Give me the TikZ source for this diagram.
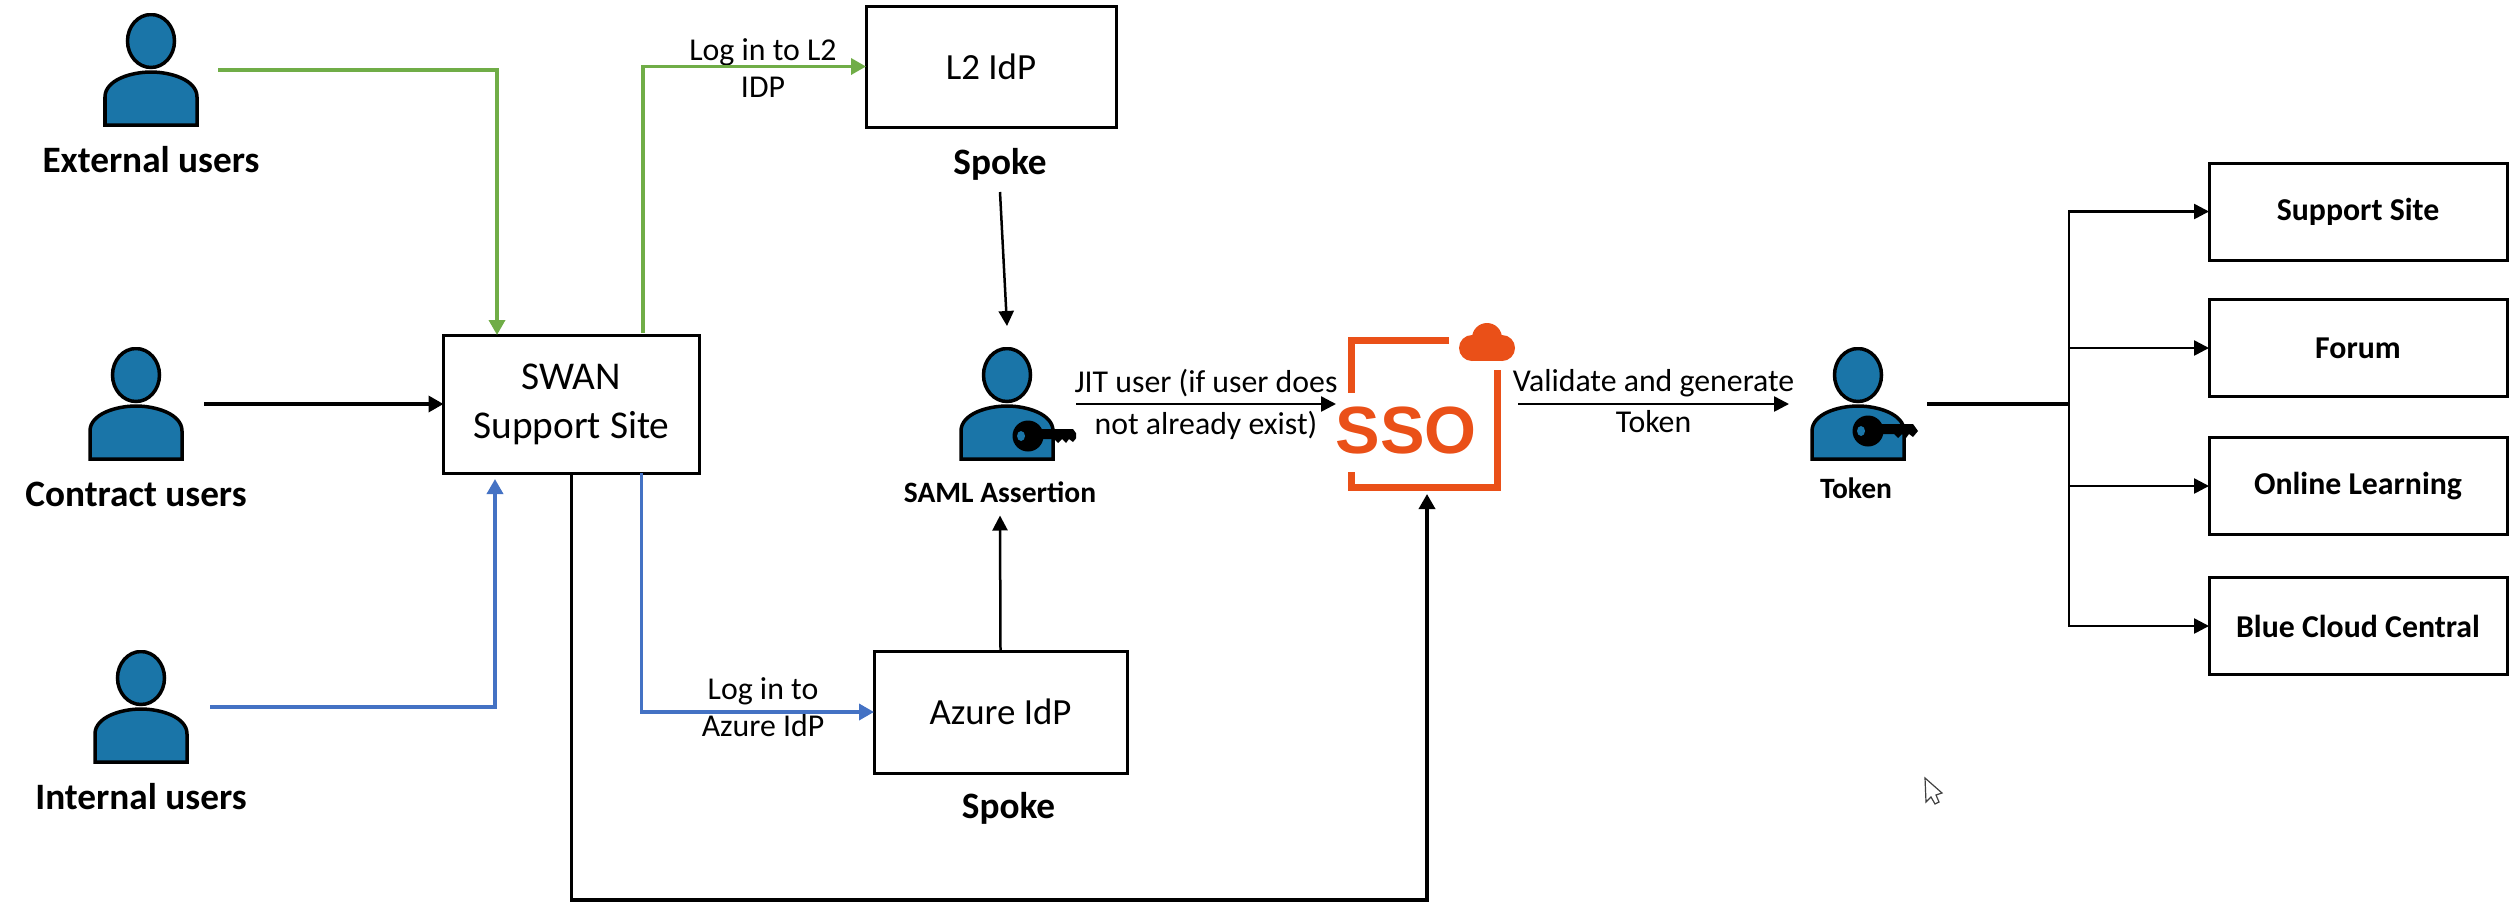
\documentclass[tikz,border=0pt]{standalone}
\usepackage{fontspec}
\setmainfont{Carlito}
\newfontfamily\ssofont{Liberation Sans}
\usetikzlibrary{arrows.meta,
                  calc,
                  shapes.geometric,
                  positioning}
\definecolor{userblue}{HTML}{1A75A8}
\definecolor{linegreen}{HTML}{70AD47}
\definecolor{lineblue}{HTML}{4472C4}
\definecolor{ssoorange}{HTML}{EA5018}
\newcommand{\usershape}{%
    \draw [line width=.035cm, fill=userblue] (0,.29) ellipse [x radius=.235, y radius=.265];
    \draw [line width=.035cm, fill=userblue] (-.46,-.55) -- (-.46,-.27) .. controls (-.46,-.1) and (-.2,-.02) .. (0,-.02) .. controls (.2,-.02) and (.46,-.1) .. (.46,-.27) -- (.46,-.55) -- cycle;
}
\newcommand{\keyshape}[2]{%
    \fill (#1,#2) ellipse [x radius=.155, y radius=.155];
    \fill (#1+.1,#2+.07) -- (#1+.45,#2+.07) -- (#1+.5,#2) -- (#1+.45,#2-.06) -- (#1+.41,#2-.03) -- (#1+.38,#2-.07) -- (#1+.34,#2-.03) -- (#1+.3,#2-.07) -- (#1+.26,#2-.03) -- (#1+.1,#2-.03) -- cycle;
    \fill [userblue] (#1-.07,#2) ellipse [x radius=.04, y radius=.05];
}
\begin{document}
\begin{tikzpicture}[every node/.style={font=\fontsize{9.05}{10.5}\selectfont, outer sep=0pt}]
    \tikzset{
    block/.style= {draw, rectangle, line width=.03cm, align=center, font=\fontsize{10.5}{14}\selectfont},
    tagblock/.style= {draw, rectangle, line width=.03cm, align=center, minimum width=2.98cm, minimum height=.97cm, font=\fontsize{9.05}{10}\selectfont\bfseries},
    user/.style = {rectangle, minimum height=1.14cm, path picture={\begin{scope}[shift={(path picture bounding box.center)}]\usershape\end{scope}}},
    samlkey/.style = {rectangle, minimum height=1.14cm, minimum width=1.38cm, path picture={\begin{scope}[shift={(path picture bounding box.center)}]\usershape\keyshape{.21}{-.32}\end{scope}}},
    tokenkey/.style = {rectangle, minimum height=1.14cm, minimum width=1.38cm, path picture={\begin{scope}[shift={(path picture bounding box.center)}]\usershape\keyshape{.10}{-.27}\end{scope}}},
    caption/.style = {font=\fontsize{10.6}{12}\selectfont\bfseries, inner sep=0pt},
    smallcaption/.style = {font=\fontsize{8.4}{10}\selectfont\bfseries, inner sep=0pt},
    edgelabel/.style = {align=center, inner sep=0pt},
    line/.style = {draw, line width=.035cm, -{Triangle[length=1.5mm,width=1.6mm]}},
    thinline/.style = {draw, line width=.025cm, -{Triangle[length=1.5mm,width=1.5mm]}},
    greenline/.style = {line, draw=linegreen, -{Triangle[length=1.5mm,width=1.6mm,fill=linegreen]}},
    blueline/.style = {line, draw=lineblue, -{Triangle[length=1.5mm,width=1.6mm,fill=lineblue]}}
}
\useasboundingbox (0,0) rectangle (25.14,9.05);
\node [block, minimum width=2.56cm, minimum height=1.38cm, font=\fontsize{11.2}{14}\selectfont] (swan) at (5.715,5.01) {SWAN\\Support Site};

\node [user, minimum width=1.34cm] (extuser) at (1.51,8.35) {};
\node [caption, below of=extuser, node distance=.9cm] (extlabel) {External users};
\node [user, minimum width=1.36cm, left of=swan, node distance=4.355cm] (conuser) {};
\node [caption, below of=conuser, node distance=.9cm] (conlabel) {Contract users};
\node [user, minimum width=1.38cm] (intuser) at (1.41,1.98) {};
\node [caption, below of=intuser, node distance=.9cm] (intlabel) {Internal users};

\node [block, minimum width=2.5cm, minimum height=1.21cm] (ltwo) at (9.91,8.385) {L2 IdP};
\node [caption, below of=ltwo, node distance=.975cm, xshift=.09cm] (ltwospoke) {Spoke};
\node [block, minimum width=2.53cm, minimum height=1.22cm] (azure) at (10.005,1.93) {Azure IdP};
\node [caption, below of=azure, node distance=.96cm, xshift=.08cm] (azurespoke) {Spoke};

\node [samlkey] (samluser) at (10.07,5.01) {};
\node [smallcaption] (samllabel) at (10,4.13) {SAML Assertion};

\node [rectangle, minimum width=1.82cm, minimum height=1.8cm, path picture={
    \begin{scope}[shift={(path picture bounding box.center)}]
    \draw [ssoorange, line width=.07cm] (.22,.64) -- (-.76,.64) -- (-.76,.11);
    \draw [ssoorange, line width=.07cm] (-.76,-.68) -- (-.76,-.83) -- (.705,-.83) -- (.705,.34);
    \fill [ssoorange] (.45,.56) circle [radius=.13];
    \fill [ssoorange] (.75,.56) circle [radius=.13];
    \fill [ssoorange] (.6,.66) circle [radius=.15];
    \fill [ssoorange] (.45,.43) rectangle (.75,.6);
    \end{scope}}] (sso) at (14.27,5.01) {};
\node [font=\ssofont\fontsize{19}{20}\selectfont\bfseries, text=ssoorange, inner sep=0pt] (ssotext) at (14.06,4.74) {SSO};

\node [tokenkey] (tokenuser) at (18.58,5.01) {};
\node [smallcaption] (tokenlabel) at (18.56,4.17) {Token};

\node [tagblock] (site) at (23.58,6.935) {Support Site};
\node [tagblock, below of=site, node distance=1.365cm] (forum) {Forum};
\node [tagblock, below of=forum, node distance=1.38cm] (learning) {Online Learning};
\node [tagblock, below of=learning, node distance=1.4cm] (bluecloud) {Blue Cloud Central};

\node [coordinate, right=1.42cm of tokenuser.east] (fork) {};
\node [coordinate, below=4.06cm of sso.south] (undersso) {};

\node [edgelabel] (ltwotext) at (7.63,8.37) {Log in to L2\\IDP};
\node [edgelabel] (azuretext) at (7.63,1.98) {Log in to\\Azure IdP};

\path [greenline] (extuser.east) -| ([xshift=-.745cm] swan.north);
\path [line] (conuser.east) -- (swan.west);
\path [blueline] (intuser.east) -| ([xshift=-.765cm,yshift=-.06cm] swan.south);
\path [greenline] ([xshift=.715cm,yshift=.02cm] swan.north) |- (ltwo.west);
\path [blueline] ([xshift=.7cm] swan.south) |- (azure.west);
\path [line] (swan.south) |- (undersso) -- (sso.south);
\path [thinline] ([yshift=-.12cm] ltwospoke.south) -- ([yshift=.21cm] samluser.north);
\path [thinline] (azure.north) -- ([yshift=-.13cm] samllabel.south);
\path [thinline] (samluser.east) -- (sso.west) node[midway,above=.07cm,edgelabel] {JIT user (if user does} node[midway,below=.07cm,edgelabel] {not already exist)};
\path [thinline] (sso.east) -- (tokenuser.west) node[midway,above=.07cm,edgelabel] {Validate and generate} node[midway,below=.06cm,edgelabel] {Token};
\draw [line width=.04cm] (tokenuser.east) -- (fork);
\path [thinline] (fork) |- (site.west);
\path [thinline] (fork) |- (forum.west);
\path [thinline] (fork) |- (learning.west);
\path [thinline] (fork) |- (bluecloud.west);

% cursor
\draw [line width=.012cm, black!75, fill=white] (19.25,1.27) -- (19.42,1.12) -- (19.36,1.10) -- (19.39,1.03) -- (19.35,1.01) -- (19.31,1.08) -- (19.26,1.03) -- cycle;
\end{tikzpicture}
\end{document}
